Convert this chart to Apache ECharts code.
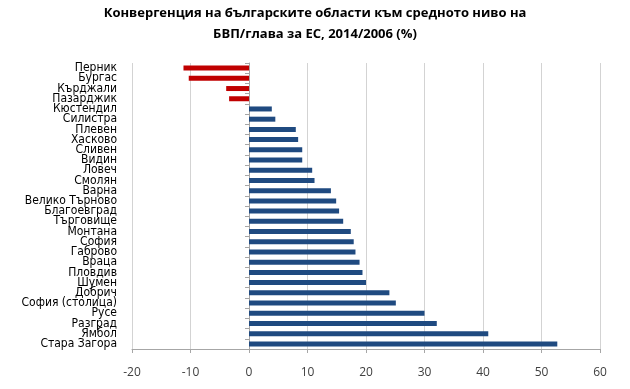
<!DOCTYPE html>
<html><head><meta charset="utf-8">
<script src="https://cdn.jsdelivr.net/npm/echarts@6/dist/echarts.min.js"></script>
<style>html,body{margin:0;padding:0;background:#fff}#c{width:630px;height:389px}</style>
</head><body><div id="c"></div>
<script>
var categories = ['Перник','Бургас','Кърджали','Пазарджик','Кюстендил','Силистра','Плевен','Хасково','Сливен','Видин','Ловеч','Смолян','Варна','Велико Търново','Благоевград','Търговище','Монтана','София','Габрово','Враца','Пловдив','Шумен','Добрич','София (столица)','Русе','Разград','Ямбол','Стара Загора'];
var values = [-11.2,-10.3,-3.9,-3.4,3.9,4.5,8.0,8.4,9.1,9.1,10.8,11.2,14.0,14.9,15.4,16.1,17.4,17.9,18.2,18.9,19.4,20.0,24.0,25.1,30.0,32.1,40.9,52.7];
var xTicks = [-20,-10,0,10,20,30,40,50,60];
var titleText = 'Конвергенция на българските области към средното ниво на\nБВП/глава за ЕС, 2014/2006 (%)';

var chart = echarts.init(document.getElementById('c'));
chart.setOption({
  animation: false,
  title: {
    text: titleText, left: 'center', top: -2,
    textStyle: {fontFamily: 'Open Sans', fontSize: 13, fontWeight: 'bold', color: '#000', lineHeight: 21}
  },
  grid: {left: 132, right: 30, top: 63, bottom: 40, containLabel: false, outerBoundsMode: 'none'},
  xAxis: {
    type: 'value', min: xTicks[0], max: xTicks[xTicks.length-1], interval: 10,
    axisLine: {show: true, onZero: false, lineStyle: {color: '#a6a6a6'}},
    axisTick: {show: true, length: 4, lineStyle: {color: '#a6a6a6'}},
    axisLabel: {color: '#404040', fontFamily: 'Open Sans', fontSize: 12, margin: 18},
    splitLine: {show: true, lineStyle: {color: '#d3d3d3', type: 'solid'}}
  },
  yAxis: [{
    type: 'category', data: categories, inverse: true, position: 'left',
    axisLine: {show: false, onZero: false},
    axisTick: {show: false},
    axisLabel: {color: '#000', fontFamily: 'DejaVu Sans Condensed, Liberation Sans', fontSize: 12, margin: 15, interval: 0},
    splitLine: {show: false}
  }, {
    type: 'category', data: categories, inverse: true, position: 'left',
    axisLine: {show: true, onZero: true, lineStyle: {color: '#a6a6a6'}},
    axisTick: {show: true, length: 4, interval: 0, lineStyle: {color: '#a6a6a6'}},
    axisLabel: {show: false},
    splitLine: {show: false}
  }],
  series: [{
    type: 'bar', data: values, barWidth: 5, yAxisIndex: 0,
    itemStyle: {color: function(p){ return p.value < 0 ? '#c00000' : '#1f4a80'; }}
  }]
});
</script></body></html>
